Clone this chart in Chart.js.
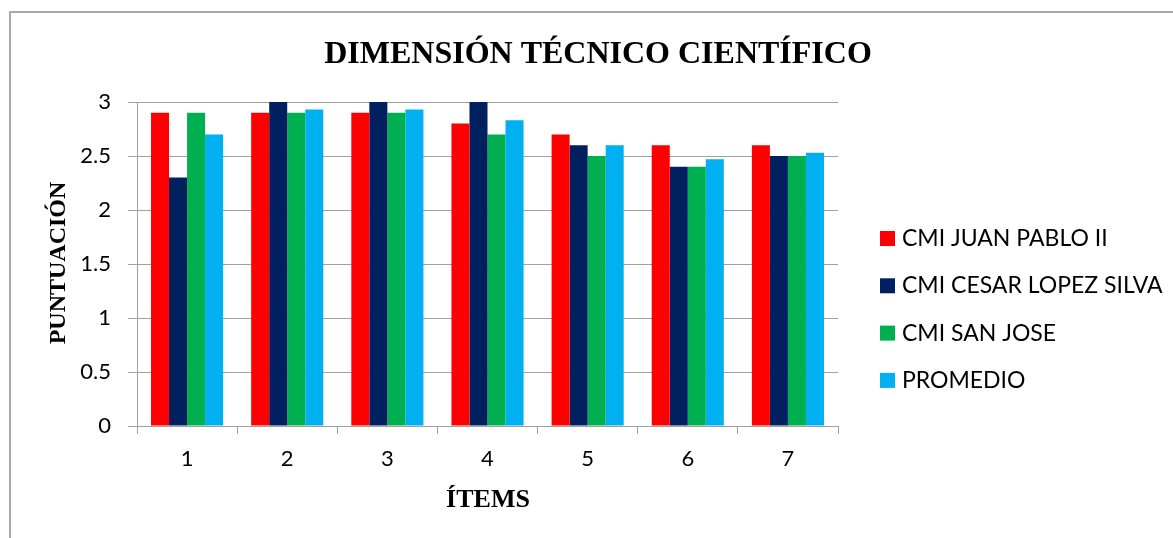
<!DOCTYPE html>
<html>
<head>
<meta charset="utf-8">
<script src="https://cdn.jsdelivr.net/npm/chart.js@4"></script>
<style>
  html, body { margin: 0; padding: 0; background: #ffffff; }
  #wrap { width: 1173px; height: 538px; position: relative; }
</style>
</head>
<body>
<div id="wrap"><canvas id="c"></canvas></div>
<script>
// Item numbers on the horizontal axis
const items = ['1', '2', '3', '4', '5', '6', '7'];

// Scores per centre, one value per item
const juanPablo = [2.9, 2.9, 2.9, 2.8, 2.7, 2.6, 2.6];
const cesarLopez = [2.3, 3.0, 3.0, 3.0, 2.6, 2.4, 2.5];
const sanJose = [2.9, 2.9, 2.9, 2.7, 2.5, 2.4, 2.5];
const promedio = [2.7, 2.93, 2.93, 2.83, 2.6, 2.47, 2.53];

const seriesNames = ['CMI JUAN PABLO II', 'CMI CESAR LOPEZ SILVA', 'CMI SAN JOSE', 'PROMEDIO'];
const seriesColors = ['#FF0000', '#002060', '#00B050', '#00B0F0'];

const chartTitle = 'DIMENSIÓN TÉCNICO CIENTÍFICO';
const yTitle = 'PUNTUACIÓN';
const xTitle = 'ÍTEMS';

const serif = '"Liberation Serif", "Times New Roman", serif';
const sans = 'Lato, "Open Sans", sans-serif';
const gridGray = '#a0a0a0';

// Frame, titles and legend drawn around the plot
const decorations = {
  id: 'decorations',
  beforeDraw(chart) {
    const ctx = chart.ctx;
    ctx.save();
    ctx.fillStyle = '#ffffff';
    ctx.fillRect(0, 0, chart.width, chart.height);
    ctx.strokeStyle = '#a9a9a9';
    ctx.lineWidth = 2;
    ctx.beginPath();
    ctx.moveTo(10, chart.height);
    ctx.lineTo(10, 12);
    ctx.lineTo(chart.width, 12);
    ctx.stroke();
    ctx.restore();
  },
  afterDraw(chart) {
    const ctx = chart.ctx;
    ctx.save();
    ctx.fillStyle = '#000000';

    // main title
    ctx.font = 'bold 32px ' + serif;
    ctx.textAlign = 'center';
    ctx.textBaseline = 'alphabetic';
    ctx.fillText(chartTitle, 598, 63);

    // x axis title
    ctx.font = 'bold 26px ' + serif;
    ctx.fillText(xTitle, 488, 507);

    // y axis title
    ctx.save();
    ctx.translate(65, 263);
    ctx.rotate(-Math.PI / 2);
    ctx.font = 'bold 24px ' + serif;
    ctx.fillText(yTitle, 0, 0);
    ctx.restore();

    // legend
    ctx.textAlign = 'left';
    ctx.font = '23px ' + sans;
    chart.data.datasets.forEach((ds, i) => {
      const top = 231 + i * 47.3;
      ctx.fillStyle = ds.backgroundColor;
      ctx.fillRect(880, top, 15, 15);
      ctx.fillStyle = '#000000';
      ctx.fillText(ds.label, 902, top + 15);
    });
    ctx.restore();
  }
};

const series = [juanPablo, cesarLopez, sanJose, promedio];

new Chart(document.getElementById('c'), {
  type: 'bar',
  data: {
    labels: items,
    datasets: series.map((values, i) => ({
      label: seriesNames[i],
      data: values,
      backgroundColor: seriesColors[i],
      borderWidth: 0,
      categoryPercentage: 0.72,
      barPercentage: 1.0
    }))
  },
  options: {
    responsive: true,
    maintainAspectRatio: false,
    animation: false,
    layout: { padding: { left: 0, top: 102, right: 335, bottom: 0 } },
    plugins: {
      legend: { display: false },
      title: { display: false },
      tooltip: { enabled: false }
    },
    scales: {
      x: {
        afterFit(scale) { scale.height = 112; },
        grid: {
          offset: true,
          drawOnChartArea: false,
          drawTicks: true,
          tickLength: 8,
          color: gridGray
        },
        border: { color: gridGray, width: 1 },
        ticks: {
          color: '#000000',
          font: { family: sans, size: 22 },
          padding: 12,
          maxRotation: 0
        }
      },
      y: {
        min: 0,
        max: 3,
        afterFit(scale) { scale.width = 137; },
        grid: {
          color: gridGray,
          drawTicks: true,
          tickLength: 9
        },
        border: { color: gridGray, width: 1 },
        ticks: {
          stepSize: 0.5,
          color: '#000000',
          font: { family: sans, size: 22 },
          padding: 17,
          callback: (v) => String(Math.round(v * 10) / 10)
        }
      }
    }
  },
  plugins: [decorations]
});
</script>
</body>
</html>
